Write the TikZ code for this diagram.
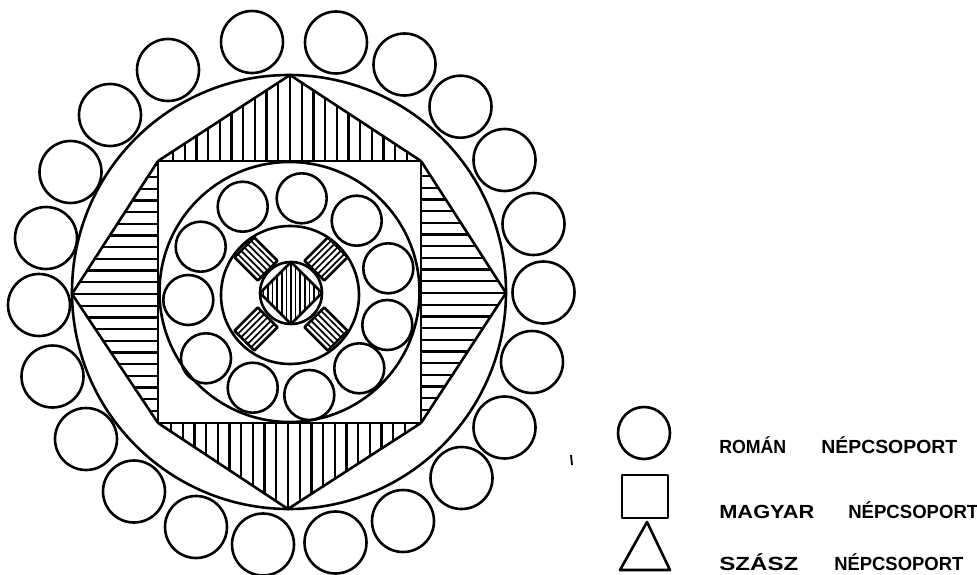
\documentclass[tikz,border=0pt]{standalone}
\usepackage{fontspec}
\usepackage{graphicx}
\setmainfont{Liberation Sans}
\begin{document}
\begin{tikzpicture}[x=1pt,y=-1pt,line width=2.6pt,line join=round,
  hatchln/.style={line width=2.3pt},
  fineh/.style={line width=1.7pt},
  legtxt/.style={anchor=base west,inner sep=0pt,font=\fontsize{19}{21}\selectfont\bfseries}]
\useasboundingbox (0,0) rectangle (977,575);
\fill[white] (0,0) rectangle (977,575);

% outer ring of circles
\foreach \cx/\cy in {252/42,168/70,110/115,70.5/172,46/238,39/305,52.5/376.5,86/439,134/491.5,196/527,263/544.5,336/42.5,404.5/64.5,460.5/106.7,504.5/160,533.5/224,543.5/292.5,532/362,504.5/427.5,461.5/478,403/521,335.5/542.5}
  \draw (\cx,\cy) circle (31);

% big circle
\draw (289,292) circle (217);

% corner coordinates
\coordinate (sq1) at (158,161);
\coordinate (sq2) at (421,161);
\coordinate (sq3) at (421,423);
\coordinate (sq4) at (158,423);
\coordinate (apT) at (290,75);
\coordinate (apL) at (72,294);
\coordinate (apR) at (506,293);
\coordinate (apB) at (288,509);

% top triangle
\begin{scope}
\clip (sq1) -- (apT) -- (sq2) -- cycle;
\foreach \i in {-12,...,12} \draw[hatchln] ({290+\i*11.7},60) -- ({290+\i*11.7},170);
\end{scope}
\draw (sq1) -- (apT) -- (sq2);
% left triangle
\begin{scope}
\clip (sq1) -- (apL) -- (sq4) -- cycle;
\foreach \i in {-12,...,12} \draw[hatchln] (60,{294+\i*11.7}) -- (170,{294+\i*11.7});
\end{scope}
\draw (sq1) -- (apL) -- (sq4);
% right triangle
\begin{scope}
\clip (sq2) -- (apR) -- (sq3) -- cycle;
\foreach \i in {-12,...,12} \draw[hatchln] (410,{293+\i*11.7}) -- (520,{293+\i*11.7});
\end{scope}
\draw (sq2) -- (apR) -- (sq3);
% bottom triangle
\begin{scope}
\clip (sq4) -- (apB) -- (sq3) -- cycle;
\foreach \i in {-12,...,12} \draw[hatchln] ({288+\i*11.7},415) -- ({288+\i*11.7},520);
\end{scope}
\draw (sq4) -- (apB) -- (sq3);

% square
\draw (sq1) rectangle (sq3);

% inner circle
\draw (289.5,292) circle (130);

% inner ring of circles
\foreach \cx/\cy in {242.7/206.7,301.7/198.3,356.7/220.7,388.3/268.3,387.3/325,359.3/368.3,309.3/395,252.7/387.7,206/358.3,188.3/300,200.7/246.7}
  \draw (\cx,\cy) circle (25);

% centre ring
\draw (290,295) circle (69);

% four hatched blocks
\foreach \a in {45,135,225,315}{
  \begin{scope}[shift={(291,294)},rotate=\a]
    \foreach \k in {-9.4,-4.7,0,4.7,9.4} \draw[fineh] (33,\k) -- (66,\k);
    \draw (33,-14) rectangle (66,14);
  \end{scope}
}

% central circle with hatched diamond
\begin{scope}
\clip (291,262) -- (322,293) -- (291,324) -- (260,293) -- cycle;
\foreach \i in {-7,...,7} \draw[fineh] ({291+\i*4.6},255) -- ({291+\i*4.6},330);
\end{scope}
\draw (291,262) -- (322,293) -- (291,324) -- (260,293) -- cycle;
\draw (291,293) circle (31);

% stray mark
\draw[line width=1.8pt] (571,455) -- (572,465);

% legend
\draw (644,433) circle (26);
\draw (622,475) rectangle (668,518);
\draw (620,570) -- (647,522) -- (670,570) -- cycle;

\node[legtxt] (l1a) at (718,453) {\resizebox{67pt}{\height}{ROMÁN}};
\node[legtxt] (l1b) at (820,453) {\resizebox{136pt}{\height}{NÉPCSOPORT}};
\node[legtxt] (l2a) at (718,518) {\resizebox{95pt}{\height}{MAGYAR}};
\node[legtxt] (l2b) at (847,518) {\resizebox{130pt}{\height}{NÉPCSOPORT}};
\node[legtxt] (l3a) at (718,570) {\resizebox{79pt}{\height}{SZÁSZ}};
\node[legtxt] (l3b) at (833,570) {\resizebox{129pt}{\height}{NÉPCSOPORT}};
\end{tikzpicture}
\end{document}
